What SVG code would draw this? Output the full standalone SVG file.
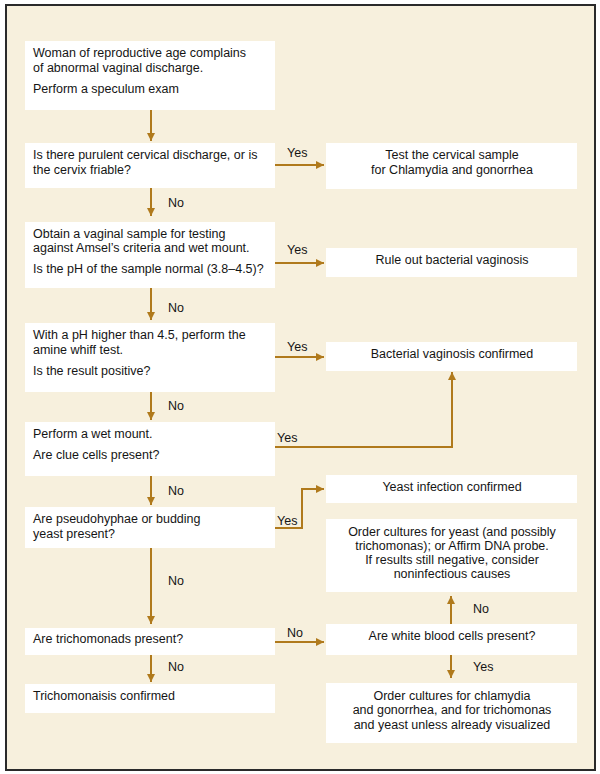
<svg xmlns="http://www.w3.org/2000/svg" width="600" height="774" viewBox="0 0 600 774">
<defs>
<marker id="ah" viewBox="0 0 10 10" refX="10" refY="5" markerWidth="4.2" markerHeight="4.2" markerUnits="strokeWidth" orient="auto">
<path d="M0,0 L10,5 L0,10 Z" fill="#b07a1c"/>
</marker>
<style>
.bx{fill:#ffffff;}
.t{font-family:"Liberation Sans",Arial,sans-serif;font-size:12.5px;fill:#151515;}
.c{text-anchor:middle;}
.ln{fill:none;stroke:#b07a1c;stroke-width:2;}
.ar{fill:none;stroke:#b07a1c;stroke-width:2;marker-end:url(#ah);}
</style>
</defs>
<rect x="0" y="0" width="600" height="774" fill="#ffffff"/>
<rect x="6" y="5" width="589" height="765" fill="#f7f0dd" stroke="#2a2a2a" stroke-width="2"/>

<g id="n1"><rect class="bx" x="25" y="41" width="250" height="69"/>
<text class="t" x="33" y="57">Woman of reproductive age complains</text>
<text class="t" x="33" y="72">of abnormal vaginal discharge.</text>
<text class="t" x="33" y="93">Perform a speculum exam</text></g>

<g id="n2"><rect class="bx" x="25" y="143" width="250" height="45"/>
<text class="t" x="33" y="159">Is there purulent cervical discharge, or is</text>
<text class="t" x="33" y="174">the cervix friable?</text></g>

<g id="n3"><rect class="bx" x="326" y="143" width="251" height="46"/>
<text class="t c" x="452" y="159">Test the cervical sample</text>
<text class="t c" x="452" y="174">for Chlamydia and gonorrhea</text></g>

<g id="n4"><rect class="bx" x="25" y="222" width="250" height="66"/>
<text class="t" x="33" y="238">Obtain a vaginal sample for testing</text>
<text class="t" x="33" y="252">against Amsel’s criteria and wet mount.</text>
<text class="t" x="33" y="273">Is the pH of the sample normal (3.8–4.5)?</text></g>

<g id="n5"><rect class="bx" x="326" y="248" width="251" height="29"/>
<text class="t c" x="452" y="264">Rule out bacterial vaginosis</text></g>

<g id="n6"><rect class="bx" x="25" y="323" width="250" height="69"/>
<text class="t" x="33" y="339">With a pH higher than 4.5, perform the</text>
<text class="t" x="33" y="354">amine whiff test.</text>
<text class="t" x="33" y="375">Is the result positive?</text></g>

<g id="n7"><rect class="bx" x="326" y="342" width="251" height="29"/>
<text class="t c" x="452" y="358">Bacterial vaginosis confirmed</text></g>

<g id="n8"><rect class="bx" x="25" y="422" width="250" height="54"/>
<text class="t" x="33" y="438">Perform a wet mount.</text>
<text class="t" x="33" y="459">Are clue cells present?</text></g>

<g id="n9"><rect class="bx" x="25" y="507" width="250" height="41"/>
<text class="t" x="33" y="523">Are pseudohyphae or budding</text>
<text class="t" x="33" y="538">yeast present?</text></g>

<g id="n10"><rect class="bx" x="326" y="475" width="251" height="28"/>
<text class="t c" x="452" y="491">Yeast infection confirmed</text></g>

<g id="n11"><rect class="bx" x="326" y="519" width="251" height="73"/>
<text class="t c" x="452" y="536">Order cultures for yeast (and possibly</text>
<text class="t c" x="452" y="550">trichomonas); or Affirm DNA probe.</text>
<text class="t c" x="452" y="564">If results still negative, consider</text>
<text class="t c" x="452" y="578">noninfectious causes</text></g>

<g id="n12"><rect class="bx" x="25" y="628" width="250" height="27"/>
<text class="t" x="33" y="643">Are trichomonads present?</text></g>

<g id="n13"><rect class="bx" x="326" y="624" width="251" height="31"/>
<text class="t c" x="452" y="640">Are white blood cells present?</text></g>

<g id="n14"><rect class="bx" x="25" y="684" width="250" height="29"/>
<text class="t" x="33" y="700">Trichomonaisis confirmed</text></g>

<g id="n15"><rect class="bx" x="326" y="683" width="251" height="60"/>
<text class="t c" x="452" y="700">Order cultures for chlamydia</text>
<text class="t c" x="452" y="714">and gonorrhea, and for trichomonas</text>
<text class="t c" x="452" y="729">and yeast unless already visualized</text></g>

<g id="connectors">
<line class="ar" x1="151" y1="110" x2="151" y2="141"/>
<line class="ar" x1="275" y1="165" x2="324" y2="165"/>
<line class="ar" x1="151" y1="188" x2="151" y2="216"/>
<line class="ar" x1="275" y1="263" x2="324" y2="263"/>
<line class="ar" x1="151" y1="288" x2="151" y2="320"/>
<line class="ar" x1="275" y1="357" x2="324" y2="357"/>
<line class="ar" x1="151" y1="392" x2="151" y2="420"/>
<polyline class="ar" points="275,447 452,447 452,372"/>
<line class="ar" x1="151" y1="476" x2="151" y2="505"/>
<polyline class="ar" points="275,528 302,528 302,489 324,489"/>
<line class="ar" x1="151" y1="548" x2="151" y2="624"/>
<line class="ar" x1="275" y1="642" x2="324" y2="642"/>
<line class="ar" x1="451" y1="624" x2="451" y2="596"/>
<line class="ar" x1="451" y1="655" x2="451" y2="678"/>
<line class="ar" x1="151" y1="655" x2="151" y2="682"/>
<text class="t" x="287" y="157">Yes</text>
<text class="t" x="168" y="207">No</text>
<text class="t" x="287" y="254">Yes</text>
<text class="t" x="168" y="312">No</text>
<text class="t" x="287" y="351">Yes</text>
<text class="t" x="168" y="410">No</text>
<text class="t" x="277" y="442">Yes</text>
<text class="t" x="168" y="495">No</text>
<text class="t" x="277" y="525">Yes</text>
<text class="t" x="168" y="585">No</text>
<text class="t" x="287" y="637">No</text>
<text class="t" x="473" y="613">No</text>
<text class="t" x="473" y="671">Yes</text>
<text class="t" x="168" y="671">No</text>
</g>
</svg>
